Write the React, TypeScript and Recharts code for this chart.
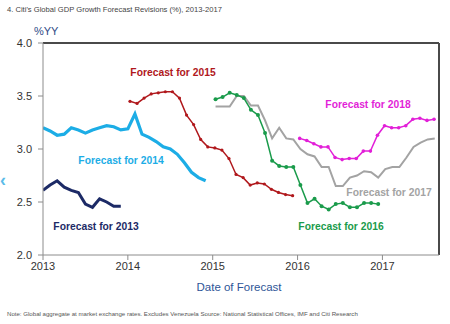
import { Line, LineChart, ReferenceLine, XAxis, YAxis } from "recharts";

// forecast month index: 0 = Jan 2013
const yearTicks = [0, 12, 24, 36, 48];
const valueTicks = [2.0, 2.5, 3.0, 3.5, 4.0];

const start2013 = 0;
const fc2013 = [2.61, 2.66, 2.7, 2.64, 2.61, 2.59, 2.48, 2.45, 2.53, 2.5, 2.46, 2.46];

const start2014 = 0;
const fc2014 = [
  3.2, 3.17, 3.13, 3.14, 3.2, 3.18, 3.15, 3.18, 3.2, 3.22, 3.21, 3.18, 3.19, 3.33, 3.14, 3.11,
  3.07, 3.02, 3.0, 2.95, 2.87, 2.78, 2.73, 2.7,
];

const start2015 = 12.3;
const fc2015 = [
  3.45, 3.43, 3.48, 3.52, 3.53, 3.54, 3.54, 3.48, 3.32, 3.23, 3.09, 3.02, 3.01, 2.99, 2.91, 2.76,
  2.73, 2.66, 2.68, 2.67, 2.62, 2.59, 2.57, 2.56,
];

const start2016 = 24.4;
const fc2016 = [
  3.47, 3.49, 3.53, 3.51, 3.48, 3.37, 3.32, 3.15, 2.89, 2.84, 2.83, 2.83, 2.66, 2.49, 2.53, 2.46,
  2.43, 2.48, 2.49, 2.45, 2.45, 2.49, 2.49, 2.48,
];

const start2017 = 24.4;
const fc2017 = [
  3.4, 3.4, 3.4, 3.5, 3.5, 3.41, 3.41, 3.27, 3.1, 3.2, 3.1, 3.09, 3.0, 2.95, 2.93, 2.83, 2.83,
  2.65, 2.65, 2.73, 2.75, 2.79, 2.78, 2.73, 2.81, 2.83, 2.83, 2.92, 3.02, 3.06, 3.09, 3.1,
];

const start2018 = 36.3;
const fc2018 = [
  3.1, 3.08, 3.05, 3.02, 3.02, 2.92, 2.9, 2.91, 2.91, 2.98, 2.98, 3.13, 3.22, 3.2, 3.2, 3.22,
  3.28, 3.29, 3.27, 3.28,
];

const toSeries = (start: number, values: number[]) =>
  values.map((v, i) => ({ m: start + i, v }));

const font = '"Liberation Sans", Arial, sans-serif';

type TagProps = { x: number; y: number; color: string; text: string };

function Tag({ x, y, color, text }: TagProps) {
  return (
    <div
      style={{
        position: "absolute",
        left: x,
        top: y,
        transform: "translate(-50%, -50%)",
        color,
        fontSize: 10.3,
        fontWeight: "bold",
        whiteSpace: "nowrap",
        lineHeight: 1,
      }}
    >
      {text}
    </div>
  );
}

export default function App() {
  const axisTick = { fill: "#333", fontSize: 11, fontFamily: font };
  return (
    <div
      style={{
        position: "absolute",
        left: 0,
        top: 0,
        width: 450,
        height: 324,
        background: "#fff",
        fontFamily: font,
        overflow: "hidden",
      }}
    >
      <div
        style={{ position: "absolute", left: 7, top: 5, fontSize: 7.6, color: "#444", whiteSpace: "nowrap" }}
      >
        4. Citi's Global GDP Growth Forecast Revisions (%), 2013-2017
      </div>
      <div style={{ position: "absolute", left: 34, top: 25, fontSize: 11, color: "#2f4a86" }}>%YY</div>
      <div style={{ position: "absolute", left: 0, top: 170, fontSize: 18, fontWeight: "bold", color: "#5bbbe8" }}>
        ‹
      </div>

      <LineChart width={450} height={324} margin={{ top: 43, right: 11, bottom: 49, left: 0 }}>
        <XAxis
          type="number"
          dataKey="m"
          domain={[0, 56]}
          ticks={yearTicks}
          tickFormatter={(m: number) => String(2013 + m / 12)}
          allowDataOverflow
          height={20}
          tick={axisTick}
          tickSize={5}
          tickMargin={2}
          axisLine={{ stroke: "#8c8c8c" }}
          tickLine={{ stroke: "#8c8c8c" }}
        />
        <YAxis
          type="number"
          domain={[2, 4]}
          ticks={valueTicks}
          tickFormatter={(v: number) => v.toFixed(1)}
          width={43}
          tick={axisTick}
          tickSize={5}
          tickMargin={6}
          axisLine={{ stroke: "#8c8c8c" }}
          tickLine={{ stroke: "#8c8c8c" }}
        />
        <ReferenceLine y={4} stroke="#4a4a4a" strokeWidth={2} />
        <ReferenceLine x={56} stroke="#4a4a4a" strokeWidth={2} />

        <Line
          data={toSeries(start2013, fc2013)}
          dataKey="v"
          stroke="#1c2a66"
          strokeWidth={3}
          dot={false}
          isAnimationActive={false}
        />
        <Line
          data={toSeries(start2014, fc2014)}
          dataKey="v"
          stroke="#1cade6"
          strokeWidth={3.2}
          dot={false}
          isAnimationActive={false}
        />
        <Line
          data={toSeries(start2015, fc2015)}
          dataKey="v"
          stroke="#b0181c"
          strokeWidth={1.5}
          dot={{ r: 1.6, fill: "#b0181c", stroke: "none" }}
          isAnimationActive={false}
        />
        <Line
          data={toSeries(start2017, fc2017)}
          dataKey="v"
          stroke="#a3a3a3"
          strokeWidth={2}
          dot={false}
          isAnimationActive={false}
        />
        <Line
          data={toSeries(start2016, fc2016)}
          dataKey="v"
          stroke="#1a9b4b"
          strokeWidth={1.5}
          dot={{ r: 2, fill: "#1a9b4b", stroke: "none" }}
          isAnimationActive={false}
        />
        <Line
          data={toSeries(start2018, fc2018)}
          dataKey="v"
          stroke="#e21fd8"
          strokeWidth={1.5}
          dot={{ r: 1.8, fill: "#e21fd8", stroke: "none" }}
          isAnimationActive={false}
        />
      </LineChart>

      <Tag x={173} y={73} color="#b0181c" text="Forecast for 2015" />
      <Tag x={121} y={161} color="#1cade6" text="Forecast for 2014" />
      <Tag x={96} y={227} color="#1c2a66" text="Forecast for 2013" />
      <Tag x={368} y={105} color="#e21fd8" text="Forecast for 2018" />
      <Tag x={389} y={193} color="#a3a3a3" text="Forecast for 2017" />
      <Tag x={341} y={227} color="#1a9b4b" text="Forecast for 2016" />

      <div
        style={{
          position: "absolute",
          left: 239,
          top: 287,
          transform: "translate(-50%, -50%)",
          fontSize: 11.5,
          color: "#2e5597",
          whiteSpace: "nowrap",
        }}
      >
        Date of Forecast
      </div>
      <div
        style={{ position: "absolute", left: 7, top: 310, fontSize: 6.1, color: "#555", whiteSpace: "nowrap" }}
      >
        Note: Global aggregate at market exchange rates. Excludes Venezuela Source: National Statistical Offices, IMF
        and Citi Research
      </div>
    </div>
  );
}
